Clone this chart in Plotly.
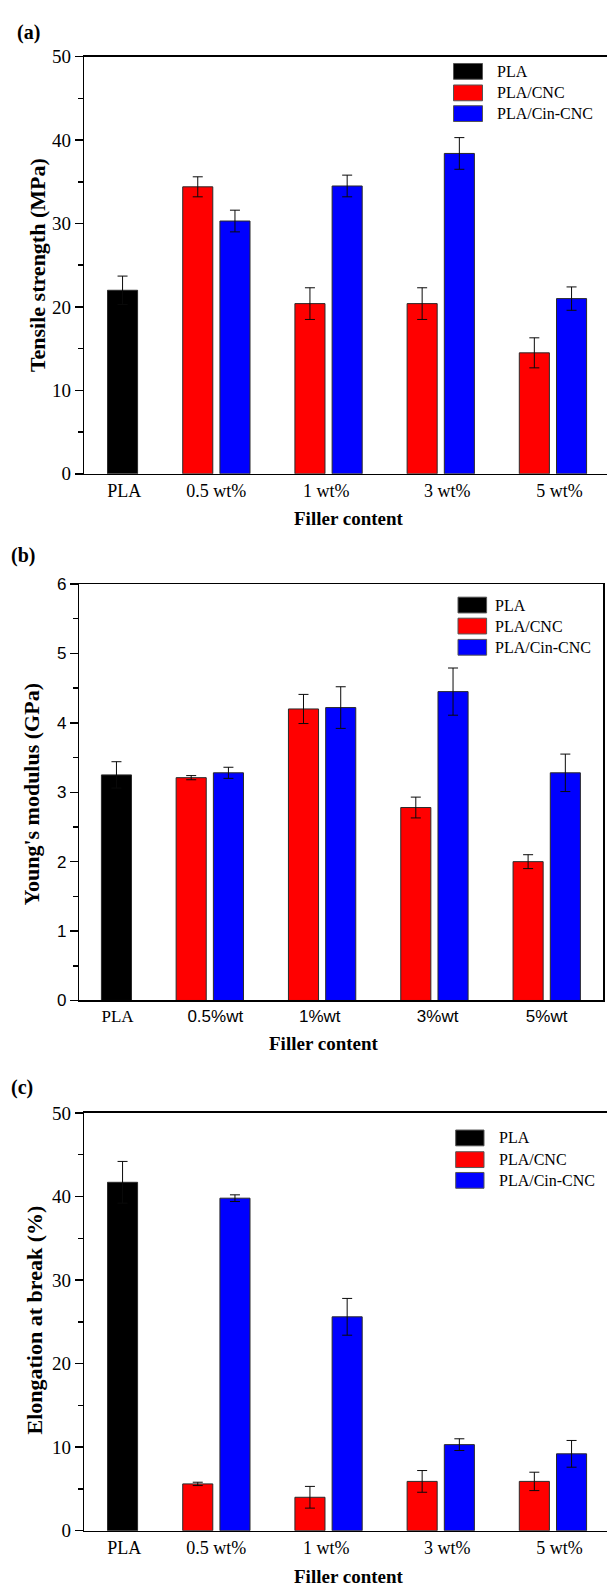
import numpy as np
import plotly.graph_objects as go

W, H = 607, 1593
SERIF = "Liberation Serif, Times New Roman, serif"
SANS = "Liberation Sans, Arial, sans-serif"

# ---------------- data ----------------
series_names = ["PLA", "PLA/CNC", "PLA/Cin-CNC"]
series_colors = ["#000000", "#ff0000", "#0000ff"]

labels_wt = ["PLA", "0.5 wt%", "1 wt%", "3 wt%", "5 wt%"]
labels_pwt = ["PLA", "0.5%wt", "1%wt", "3%wt", "5%wt"]

tensile_pla = [22.0]
tensile_pla_err = [1.7]
tensile_cnc = [34.4, 20.4, 20.4, 14.5]
tensile_cnc_err = [1.2, 1.9, 1.9, 1.8]
tensile_cin = [30.3, 34.5, 38.4, 21.0]
tensile_cin_err = [1.3, 1.3, 1.9, 1.4]

modulus_pla = [3.25]
modulus_pla_err = [0.19]
modulus_cnc = [3.21, 4.20, 2.78, 2.00]
modulus_cnc_err = [0.03, 0.21, 0.15, 0.10]
modulus_cin = [3.28, 4.22, 4.45, 3.28]
modulus_cin_err = [0.08, 0.30, 0.34, 0.27]

elong_pla = [41.7]
elong_pla_err = [2.5]
elong_cnc = [5.6, 4.0, 5.9, 5.9]
elong_cnc_err = [0.2, 1.3, 1.3, 1.1]
elong_cin = [39.8, 25.6, 10.3, 9.2]
elong_cin_err = [0.4, 2.2, 0.7, 1.6]

# ---------------- layout helpers ----------------
def px(x):
    return x / W

def py(y):
    return 1 - y / H

BAR_W = 0.268
panels = [
    dict(tag="(a)", tag_pos=(28, 23),
         pla=tensile_pla, pla_err=tensile_pla_err,
         cnc=tensile_cnc, cnc_err=tensile_cnc_err,
         cin=tensile_cin, cin_err=tensile_cin_err,
         labels=labels_wt, label_pos=[0.18, 1.0, 1.98, 3.06, 4.06], pla_shift=0.165,
         xdom=[px(84.4), 1.0], xrange=[-0.175, 4.483], ydom=[py(470), py(47.3)],
         yrange=[0, 50], dtick=10, mdtick=5, tickfont=SERIF, ticksize=19,
         xfont=SERIF, xsize=18, mirror_y=False,
         ytitle="Tensile strength (MPa)", ytitle_pos=(37, 258.5),
         xtitle_pos=(349, 515),
         legend=dict(x0=453.5, x1=482.5, tx=495, rows=[62.2, 84, 105])),
    dict(tag="(b)", tag_pos=(23, 553),
         pla=modulus_pla, pla_err=modulus_pla_err,
         cnc=modulus_cnc, cnc_err=modulus_cnc_err,
         cin=modulus_cin, cin_err=modulus_cin_err,
         labels=labels_pwt, label_pos=[0.18, 1.05, 1.98, 3.03, 4.0], pla_shift=0.17,
         xdom=[px(79.4), px(603.3)], xrange=[-0.16, 4.505], ydom=[py(1003.7), py(581.7)],
         yrange=[0, 6], dtick=1, mdtick=0.5, tickfont=SANS, ticksize=17,
         xfont=SANS, xsize=17, mirror_y=True,
         ytitle="Young's modulus (GPa)", ytitle_pos=(32, 795),
         xtitle_pos=(324, 1047),
         legend=dict(x0=458, x1=486.6, tx=492.5, rows=[603, 624.3, 645.8])),
    dict(tag="(c)", tag_pos=(22, 1092),
         pla=elong_pla, pla_err=elong_pla_err,
         cnc=elong_cnc, cnc_err=elong_cnc_err,
         cin=elong_cin, cin_err=elong_cin_err,
         labels=labels_wt, label_pos=[0.18, 1.0, 1.98, 3.06, 4.06], pla_shift=0.165,
         xdom=[px(84.4), 1.0], xrange=[-0.175, 4.483], ydom=[py(1541), py(1117.7)],
         yrange=[0, 50], dtick=10, mdtick=5, tickfont=SERIF, ticksize=19,
         xfont=SERIF, xsize=18, mirror_y=False,
         ytitle="Elongation at break (%)", ytitle_pos=(34, 1328),
         xtitle_pos=(349, 1587),
         legend=dict(x0=455.7, x1=484, tx=496.7, rows=[1143, 1165, 1186])),
]

fig = go.Figure()
shapes = []
annotations = []
EDGE = "#2a2a2a"

for i, p in enumerate(panels):
    n = i + 1
    xa = "x" if n == 1 else f"x{n}"
    ya = "y" if n == 1 else f"y{n}"
    group_x = np.arange(1, len(p["cnc"]) + 1)
    pla_x = np.arange(len(p["pla"]))

    def err(vals):
        return dict(type="data", array=vals, visible=True, color="#0a0a0a",
                    thickness=1, width=5)

    fig.add_trace(go.Bar(x=pla_x, y=p["pla"], name=series_names[0],
                         width=BAR_W, offset=p["pla_shift"] - BAR_W / 2,
                         marker=dict(color=series_colors[0], line=dict(color=EDGE, width=1)),
                         error_y=err(p["pla_err"]), xaxis=xa, yaxis=ya, showlegend=False))
    fig.add_trace(go.Bar(x=group_x, y=p["cnc"], name=series_names[1],
                         width=BAR_W, offset=-0.2986,
                         marker=dict(color=series_colors[1], line=dict(color=EDGE, width=1)),
                         error_y=err(p["cnc_err"]), xaxis=xa, yaxis=ya, showlegend=False))
    fig.add_trace(go.Bar(x=group_x, y=p["cin"], name=series_names[2],
                         width=BAR_W, offset=0.033,
                         marker=dict(color=series_colors[2], line=dict(color=EDGE, width=1)),
                         error_y=err(p["cin_err"]), xaxis=xa, yaxis=ya, showlegend=False))

    ticktext = []
    for lab in p["labels"]:
        if lab == "PLA" and p["xfont"] == SANS:
            ticktext.append(f'<span style="font-family:{SERIF}">{lab}</span>')
        else:
            ticktext.append(lab)

    xkey = "xaxis" if n == 1 else f"xaxis{n}"
    ykey = "yaxis" if n == 1 else f"yaxis{n}"
    fig.update_layout(**{
        xkey: dict(domain=p["xdom"], range=p["xrange"], anchor=ya, type="linear",
                   showline=True, linecolor="black", linewidth=1.5, mirror=True,
                   ticks="", tickvals=p["label_pos"], ticktext=ticktext,
                   tickfont=dict(family=p["xfont"], size=p["xsize"], color="black"),
                   showgrid=False, zeroline=False, fixedrange=True),
        ykey: dict(domain=p["ydom"], range=p["yrange"], anchor=xa,
                   showline=True, linecolor="black", linewidth=1.5, mirror=p["mirror_y"],
                   ticks="outside", ticklen=8, tickwidth=1.5, tickcolor="black",
                   dtick=p["dtick"], tick0=0,
                   minor=dict(ticks="outside", ticklen=5, tickwidth=1.5,
                              tickcolor="black", dtick=p["mdtick"]),
                   tickfont=dict(family=p["tickfont"], size=p["ticksize"], color="black"),
                   showgrid=False, zeroline=False, fixedrange=True),
    })

    # axis titles and panel tags
    annotations.append(dict(text=p["ytitle"], x=px(p["ytitle_pos"][0]), y=py(p["ytitle_pos"][1]),
                            xref="paper", yref="paper", showarrow=False, textangle=-90,
                            xanchor="center", yanchor="middle",
                            font=dict(family=SERIF, size=22, color="black", weight="bold")))
    annotations.append(dict(text="Filler content", x=px(p["xtitle_pos"][0]), y=py(p["xtitle_pos"][1]),
                            xref="paper", yref="paper", showarrow=False,
                            xanchor="center", yanchor="middle",
                            font=dict(family=SERIF, size=19, color="black", weight="bold")))
    annotations.append(dict(text=p["tag"], x=px(p["tag_pos"][0]), y=py(p["tag_pos"][1]),
                            xref="paper", yref="paper", showarrow=False,
                            xanchor="center", yanchor="middle",
                            font=dict(family=SERIF, size=20, color="black", weight="bold")))

    # legend (drawn as boxes + labels)
    lg = p["legend"]
    for name, color, yc in zip(series_names, series_colors, lg["rows"]):
        shapes.append(dict(type="rect", xref="paper", yref="paper",
                           x0=px(lg["x0"]), x1=px(lg["x1"]),
                           y0=py(yc + 8), y1=py(yc - 8),
                           fillcolor=color, line=dict(color="#555555", width=1)))
        annotations.append(dict(text=name, x=px(lg["tx"]), y=py(yc),
                                xref="paper", yref="paper", showarrow=False,
                                xanchor="left", yanchor="middle",
                                font=dict(family=SERIF, size=16, color="black")))

fig.update_layout(width=W, height=H, margin=dict(l=0, r=0, t=0, b=0),
                  paper_bgcolor="white", plot_bgcolor="white",
                  font=dict(family=SERIF, color="black"),
                  barmode="overlay", showlegend=False,
                  shapes=shapes, annotations=annotations)

fig.write_html("out.html", config={"displayModeBar": False, "staticPlot": True},
               post_script="document.body.style.margin='0';document.body.style.overflow='hidden';")
